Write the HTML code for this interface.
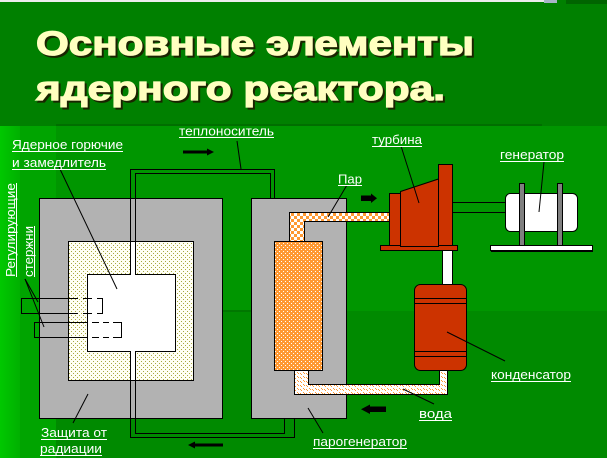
<!DOCTYPE html>
<html><head><meta charset="utf-8"><style>
html,body{margin:0;padding:0;background:#008000;overflow:hidden;}
svg{display:block}
.lb{font-family:"Liberation Sans","DejaVu Sans",sans-serif;font-size:13px;fill:#ffffff;}
.tt{font-family:"Liberation Sans","DejaVu Sans",sans-serif;font-size:34px;font-weight:bold;}
</style></head><body>
<svg width="607" height="458" viewBox="0 0 607 458" xmlns="http://www.w3.org/2000/svg">
<defs>
<linearGradient id="lg" x1="0" x2="1" y1="0" y2="0"><stop offset="0" stop-color="#00c800"/><stop offset="1" stop-color="#00b000"/></linearGradient>
<pattern id="dotp" width="4" height="4" patternUnits="userSpaceOnUse"><rect width="4" height="4" fill="#fffff4"/><rect x="1" y="1" width="1" height="1" fill="#a8a840"/><rect x="3" y="3" width="1" height="1" fill="#a8a840"/></pattern>
<pattern id="orp" width="4" height="4" patternUnits="userSpaceOnUse"><rect width="4" height="4" fill="#ff9933"/><rect x="1" y="1" width="1" height="1" fill="#ffffff"/><rect x="3" y="3" width="1" height="1" fill="#ffffff"/></pattern>
<pattern id="chk" width="6" height="6" patternUnits="userSpaceOnUse"><rect width="6" height="6" fill="#ffffff"/><rect x="0" y="0" width="3" height="3" fill="#ff9933"/><rect x="3" y="3" width="3" height="3" fill="#ff9933"/></pattern>
<pattern id="wtr" width="6" height="4" patternUnits="userSpaceOnUse"><rect width="6" height="4" fill="#ffffff"/><rect x="0" y="1" width="1" height="1" fill="#ff9933"/><rect x="1" y="2" width="1" height="1" fill="#ff9933"/><rect x="3" y="0" width="1" height="1" fill="#ff9933"/><rect x="4" y="1" width="1" height="1" fill="#ff9933"/></pattern>
</defs>

<!-- background -->
<rect x="0" y="0" width="607" height="458" fill="#008000"/>
<rect x="56" y="126" width="551" height="185" fill="#009600"/>
<rect x="56" y="311" width="551" height="147" fill="#008a00"/>
<rect x="20" y="126" width="36" height="332" fill="#00a400"/>
<rect x="0" y="126" width="20" height="332" fill="url(#lg)"/>
<rect x="56" y="124" width="486" height="2" fill="#006e00"/>
<rect x="56" y="310" width="250" height="2" fill="#007800"/>
<rect x="0" y="0" width="557" height="2" fill="#ececec"/>
<rect x="544" y="0" width="13" height="3" fill="#a8b4c8"/>
<rect x="566" y="0" width="41" height="4" fill="#006400"/>

<!-- title -->
<g class="tt">
<text x="38" y="57" fill="#1a2400" stroke="#1a2400" stroke-width="1.2" textLength="438" lengthAdjust="spacingAndGlyphs">Основные элементы</text>
<text x="36" y="55" fill="#ffffc0" stroke="#ffffc0" stroke-width="1.2" textLength="438" lengthAdjust="spacingAndGlyphs">Основные элементы</text>
<text x="38" y="102" fill="#1a2400" stroke="#1a2400" stroke-width="1.2" textLength="409" lengthAdjust="spacingAndGlyphs">ядерного реактора.</text>
<text x="36" y="100" fill="#ffffc0" stroke="#ffffc0" stroke-width="1.2" textLength="409" lengthAdjust="spacingAndGlyphs">ядерного реактора.</text>
</g>

<g shape-rendering="crispEdges">
<!-- reactor -->
<rect x="39.5" y="198.5" width="183" height="220" fill="#b2b2b2" stroke="#000"/>
<rect x="68.5" y="241.5" width="125" height="139" fill="url(#dotp)" stroke="#000"/>
<rect x="87.5" y="274.5" width="88" height="77" fill="#fff" stroke="#000"/>
<rect x="131" y="242" width="4" height="138" fill="#fff"/>
<!-- coolant loop -->
<path d="M130.5 274.5 V169.5 H274.5 V198.5" fill="none" stroke="#000"/>
<path d="M135.5 274.5 V173.5 H270.5 V198.5" fill="none" stroke="#000"/>
<path d="M130.5 351.5 V437.5 H294.5 V418.5" fill="none" stroke="#000"/>
<path d="M135.5 351.5 V433.5 H284.5 V418.5" fill="none" stroke="#000"/>

<!-- control rods -->
<path d="M78 298.5 H21.5 V313.5 H78" fill="none" stroke="#000"/>
<path d="M83 298.5 H92 M97 298.5 H102.5 V313.5 H97 M92 313.5 H83" fill="none" stroke="#000"/>
<path d="M87 322.5 H34.5 V337.5 H87" fill="none" stroke="#000"/>
<path d="M92 322.5 H99 M103 322.5 H109 M113 322.5 H121.5 V337.5 H113 M109 337.5 H103 M99 337.5 H92" fill="none" stroke="#000"/>

<!-- steam generator -->
<rect x="251.5" y="198.5" width="95" height="220" fill="#b2b2b2" stroke="#000"/>
<polygon points="289,212 389,212 389,222 304,222 304,241 289,241" fill="url(#chk)"/>
<path d="M289.5 241 V212.5 H389" fill="none" stroke="#000"/>
<path d="M389 221.5 H304.5 V241" fill="none" stroke="#000"/>
<polygon points="294,370 294,394 447,394 447,370 439,370 439,384 308,384 308,370" fill="url(#wtr)"/>
<path d="M294.5 370 V394.5 H447.5 V370" fill="none" stroke="#000"/>
<path d="M308.5 370 V384.5 H439.5 V370" fill="none" stroke="#000"/>
<rect x="274.5" y="241.5" width="48" height="129" fill="url(#orp)" stroke="#000"/>

<!-- turbine -->
<rect x="442.5" y="250.5" width="10" height="34" fill="#fff" stroke="#000"/>
<rect x="380.5" y="245.5" width="77" height="5" fill="#cc3300" stroke="#000"/>
<rect x="389.5" y="193.5" width="11" height="52" fill="#cc3300" stroke="#000"/>
</g>
<polygon points="400.5,191.5 438.5,179 438.5,246.5 400.5,246.5" fill="#cc3300" stroke="#000"/>
<g shape-rendering="crispEdges">
<rect x="438.5" y="164.5" width="14" height="81" fill="#cc3300" stroke="#000"/>
<!-- shaft -->
<path d="M452.5 202.5 H505.5 M452.5 212.5 H505.5" stroke="#000" fill="none"/>
</g>
<!-- condenser -->
<rect x="414.5" y="284.5" width="52" height="86" rx="6" fill="#cc3300" stroke="#000"/>
<g shape-rendering="crispEdges">
<path d="M414.5 298.5 H466.5 M414.5 303.5 H466.5 M414.5 351.5 H466.5 M414.5 356.5 H466.5" stroke="#000"/>
</g>
<!-- generator -->
<rect x="505.5" y="193.5" width="72" height="38" rx="5" fill="#fff" stroke="#000"/>
<g shape-rendering="crispEdges">
<rect x="519.5" y="183.5" width="5" height="62" fill="#808080" stroke="#000"/>
<rect x="557.5" y="183.5" width="5" height="62" fill="#808080" stroke="#000"/>
<rect x="490.5" y="245.5" width="102" height="5" fill="#fff" stroke="#000"/>
<rect x="491" y="250" width="102" height="2" fill="#000"/>
</g>

<!-- arrows -->
<rect x="183" y="150.5" width="25" height="3" fill="#000"/>
<polygon points="207,148.5 214,152 207,155.5" fill="#000"/>
<rect x="194" y="443.5" width="29" height="3" fill="#000"/>
<polygon points="195,441.5 188,445 195,448.5" fill="#000"/>
<rect x="361" y="195.5" width="11" height="5.5" fill="#000"/>
<polygon points="371,193.5 377,198.2 371,203" fill="#000"/>
<rect x="370" y="406.5" width="16" height="5.5" fill="#000"/>
<polygon points="370,404.5 361,409.2 370,414" fill="#000"/>

<!-- leader lines -->
<g stroke="#000" stroke-width="1" fill="none">
<line x1="59" y1="167" x2="117" y2="289"/>
<line x1="25" y1="279" x2="38" y2="302"/>
<line x1="25" y1="279" x2="44" y2="327"/>
<line x1="237" y1="141" x2="241" y2="169"/>
<line x1="73" y1="423" x2="88" y2="394"/>
<line x1="401" y1="146" x2="419" y2="203"/>
<line x1="347" y1="185" x2="328" y2="217"/>
<line x1="544" y1="162" x2="539" y2="212"/>
<line x1="447" y1="332" x2="505" y2="361"/>
<line x1="403" y1="389" x2="434" y2="404"/>
<line x1="308" y1="408" x2="323" y2="433"/>
</g>

<!-- labels -->
<g class="lb">
<text x="12" y="149" textLength="111" lengthAdjust="spacingAndGlyphs">Ядерное горючие</text>
<text x="12" y="167" textLength="94" lengthAdjust="spacingAndGlyphs">и замедлитель</text>
<text x="179" y="135.5" textLength="95" lengthAdjust="spacingAndGlyphs">теплоноситель</text>
<text x="372" y="144" textLength="50" lengthAdjust="spacingAndGlyphs">турбина</text>
<text x="500" y="159" textLength="64" lengthAdjust="spacingAndGlyphs">генератор</text>
<text x="338" y="183.5" textLength="24" lengthAdjust="spacingAndGlyphs">Пар</text>
<text x="491" y="379" textLength="80" lengthAdjust="spacingAndGlyphs">конденсатор</text>
<text x="419" y="418" textLength="33" lengthAdjust="spacingAndGlyphs">вода</text>
<text x="313" y="446" textLength="94" lengthAdjust="spacingAndGlyphs">парогенератор</text>
<text x="41" y="437" textLength="66" lengthAdjust="spacingAndGlyphs">Защита от</text>
<text x="40" y="453" textLength="62" lengthAdjust="spacingAndGlyphs">радиации</text>
<text transform="translate(15,277) rotate(-90)" x="0" y="0" textLength="94" lengthAdjust="spacingAndGlyphs">Регулирующие</text>
<text transform="translate(33,277) rotate(-90)" x="0" y="0" textLength="51" lengthAdjust="spacingAndGlyphs">стержни</text>
</g>
<g stroke="#fff" stroke-width="1" shape-rendering="crispEdges">
<line x1="12" y1="151.5" x2="123" y2="151.5"/>
<line x1="12" y1="169.5" x2="106" y2="169.5"/>
<line x1="179" y1="137.5" x2="274" y2="137.5"/>
<line x1="372" y1="146.5" x2="422" y2="146.5"/>
<line x1="500" y1="161.5" x2="564" y2="161.5"/>
<line x1="338" y1="185.5" x2="362" y2="185.5"/>
<line x1="491" y1="381.5" x2="571" y2="381.5"/>
<line x1="419" y1="420.5" x2="452" y2="420.5"/>
<line x1="313" y1="448.5" x2="407" y2="448.5"/>
<line x1="41" y1="439.5" x2="107" y2="439.5"/>
<line x1="40" y1="455.5" x2="102" y2="455.5"/>
<line x1="16.5" y1="183" x2="16.5" y2="277"/>
<line x1="34.5" y1="226" x2="34.5" y2="277"/>
</g>
</svg>
</body></html>
